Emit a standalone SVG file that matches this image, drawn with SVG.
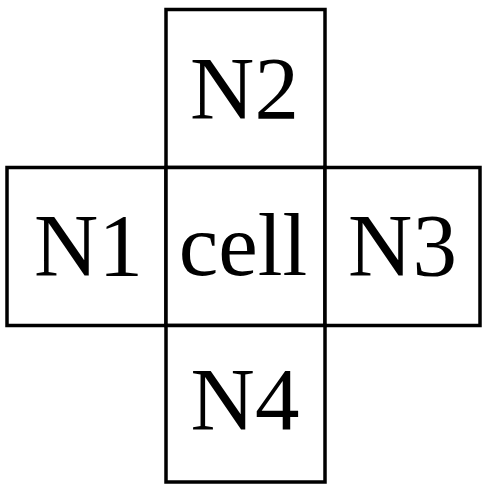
<svg xmlns="http://www.w3.org/2000/svg" width="482" height="486" viewBox="0 0 482 486">
<style>
.box{fill:#fff;stroke:#000;stroke-width:3.5}
text{font-family:"Liberation Serif","Times New Roman",serif;font-size:89px;fill:#000;text-anchor:middle}
</style>
<rect width="482" height="486" fill="#fff"/>
<g id="n2"><rect class="box" x="166" y="9.5" width="159" height="158"/><text x="244.5" y="118">N2</text></g>
<g id="n1"><rect class="box" x="7" y="167.5" width="159" height="158"/><text x="88.5" y="274.5">N1</text></g>
<g id="cell"><rect class="box" x="166" y="167.5" width="159" height="158"/><text x="243" y="274.5">cell</text></g>
<g id="n3"><rect class="box" x="325" y="167.5" width="155" height="158"/><text x="402.5" y="274.5">N3</text></g>
<g id="n4"><rect class="box" x="166" y="325.5" width="159" height="156.5"/><text x="245" y="428.5">N4</text></g>
<g id="connectors"></g>
</svg>
